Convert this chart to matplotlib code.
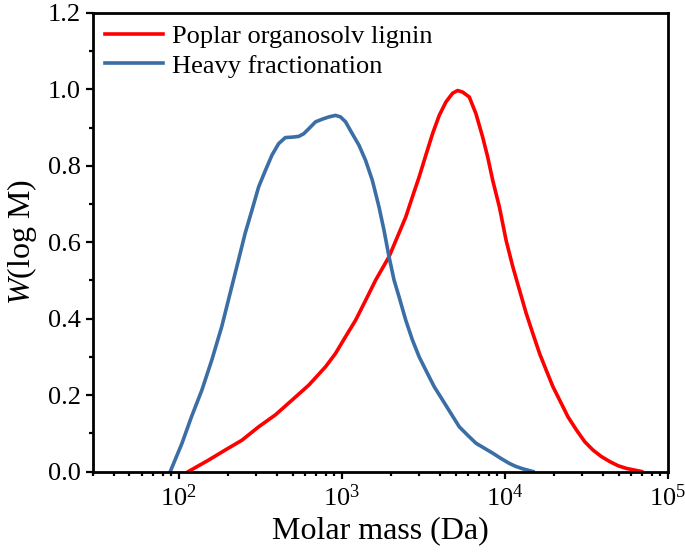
import matplotlib
matplotlib.use("Agg")
import matplotlib.pyplot as plt
from matplotlib.ticker import MultipleLocator, LogLocator, NullFormatter

plt.rcParams['font.family'] = ['Liberation Serif', 'DejaVu Serif']
plt.rcParams['mathtext.fontset'] = 'custom'
plt.rcParams['mathtext.rm'] = 'Liberation Serif'
plt.rcParams['mathtext.it'] = 'Liberation Serif:italic'

# Poplar organosolv lignin
red_M = [115, 153, 193, 245, 310, 392, 497, 629, 797, 918, 1058, 1219, 1404,
         1618, 1954, 2199, 2475, 2720, 2991, 3287, 3613, 3971, 4364, 4796,
         5148, 5526, 6073, 6674, 7335, 7873, 8452, 9290, 10209, 11222, 12333,
         13558, 14898, 16377, 17997, 19780, 21740, 24465, 27536, 30985, 34860,
         39230, 44150, 49680, 55910, 69170]
red_W = [0.0, 0.030, 0.056, 0.082, 0.117, 0.148, 0.187, 0.226, 0.274, 0.309,
         0.353, 0.396, 0.448, 0.501, 0.562, 0.614, 0.666, 0.719, 0.771, 0.828,
         0.884, 0.932, 0.967, 0.990, 0.997, 0.993, 0.980, 0.936, 0.875, 0.823,
         0.762, 0.692, 0.605, 0.536, 0.475, 0.414, 0.361, 0.309, 0.265, 0.222,
         0.187, 0.143, 0.109, 0.078, 0.056, 0.039, 0.026, 0.015, 0.008, 0.0]

# Heavy fractionation
blue_M = [89, 105, 120, 139, 160, 184, 207, 233, 256, 282, 310, 341, 374, 411,
          452, 497, 546, 586, 629, 692, 760, 836, 918, 985, 1058, 1163, 1278,
          1404, 1544, 1697, 1821, 1954, 2098, 2252, 2475, 2720, 2991, 3287,
          3698, 4163, 4683, 5270, 5931, 6674, 7510, 8452, 9511, 10702, 11764,
          12929, 14898]
blue_W = [0.0, 0.074, 0.143, 0.213, 0.292, 0.379, 0.466, 0.553, 0.623, 0.684,
          0.745, 0.788, 0.828, 0.858, 0.874, 0.875, 0.877, 0.884, 0.897, 0.915,
          0.922, 0.928, 0.932, 0.928, 0.915, 0.884, 0.854, 0.814, 0.762, 0.692,
          0.631, 0.562, 0.501, 0.457, 0.396, 0.344, 0.300, 0.265, 0.222, 0.187,
          0.152, 0.117, 0.095, 0.074, 0.061, 0.048, 0.034, 0.021, 0.013, 0.007,
          0.0]

labels = ["Poplar organosolv lignin", "Heavy fractionation"]
colors = ["#ff0000", "#3a6ea5"]

fig = plt.figure(figsize=(6.85, 5.57), dpi=100)
ax = fig.add_axes([0.1362, 0.1535, 0.9747 - 0.1362, 0.9767 - 0.1535])

ax.plot(red_M, red_W, color=colors[0], lw=2.6, label=labels[0],
        solid_joinstyle='round')
ax.plot(blue_M, blue_W, color=colors[1], lw=2.6, label=labels[1],
        solid_joinstyle='round')

ax.set_xscale('log')
ax.set_xlim(30, 1e5)
ax.set_ylim(0, 1.2)
ax.yaxis.set_major_locator(MultipleLocator(0.2))
ax.yaxis.set_minor_locator(MultipleLocator(0.1))
ax.yaxis.set_major_formatter(plt.FuncFormatter(lambda v, p: f"{v:.1f}"))
ax.xaxis.set_major_locator(LogLocator(base=10, numticks=10))
ax.xaxis.set_minor_locator(LogLocator(base=10, subs=range(2, 10), numticks=20))
ax.xaxis.set_minor_formatter(NullFormatter())

for s in ax.spines.values():
    s.set_linewidth(2.0)
ax.tick_params(which='both', direction='out', top=False, right=False,
               width=1.6, labelsize=19, pad=4)
ax.tick_params(which='major', length=5)
ax.tick_params(which='minor', length=3)

ax.set_xlabel("Molar mass (Da)", fontsize=23, labelpad=4)
ax.set_ylabel(r"$\mathit{W}$(log M)", fontsize=23, labelpad=6)

leg = ax.legend(loc='upper left', frameon=False, fontsize=19, handlelength=2.2,
                handletextpad=0.35, labelspacing=0.22, borderaxespad=0.25,
                borderpad=0.2)

fig.savefig("out.png", dpi=100)
